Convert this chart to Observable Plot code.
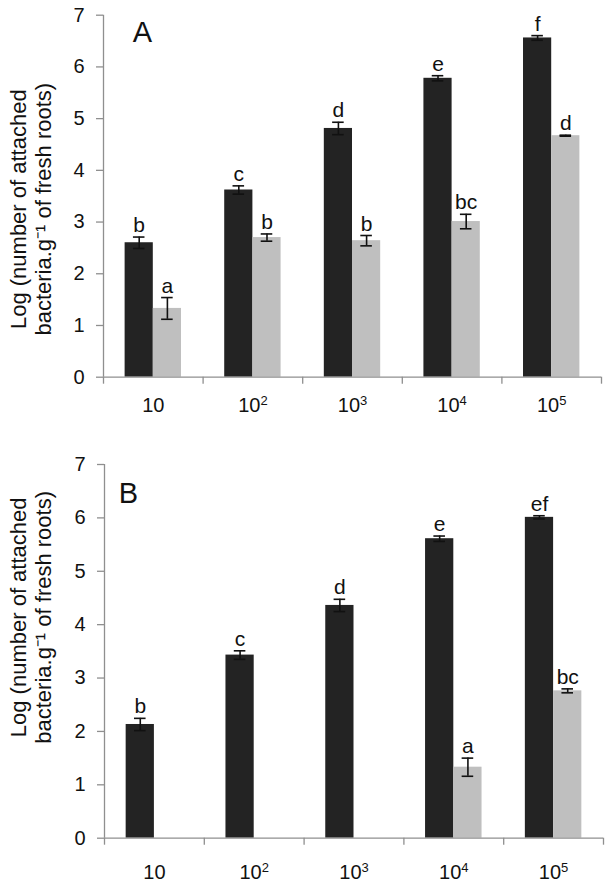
<!DOCTYPE html>
<html>
<head>
<meta charset="utf-8">
<script src="https://cdn.jsdelivr.net/npm/d3@7"></script>
<script src="https://cdn.jsdelivr.net/npm/@observablehq/plot@0.6"></script>
<style>
  html, body { margin: 0; padding: 0; background: #fff; }
  svg { display: block; }
</style>
</head>
<body>
<div id="chart"></div>
<script>
// ---- Data ----
const categories = ["10", "10²", "10³", "10⁴", "10⁵"];
const yTicks = [0, 1, 2, 3, 4, 5, 6, 7];
const yLabel = "Log (number of attached\nbacteria.g⁻¹ of fresh roots)";

// Panel A
const darkA        = [2.60, 3.62, 4.81, 5.78, 6.56];
const darkAErr     = [0.11, 0.08, 0.12, 0.05, 0.045];
const darkALetters = ["b", "c", "d", "e", "f"];
const lightA        = [1.33, 2.70, 2.64, 3.01, 4.67];
const lightAErr     = [0.21, 0.07, 0.10, 0.14, 0.01];
const lightALetters = ["a", "b", "b", "bc", "d"];

// Panel B
const darkB        = [2.13, 3.43, 4.36, 5.61, 6.01];
const darkBErr     = [0.115, 0.08, 0.115, 0.05, 0.03];
const darkBLetters = ["b", "c", "d", "e", "ef"];
const lightB        = [null, null, null, 1.33, 2.76];
const lightBErr     = [null, null, null, 0.17, 0.037];
const lightBLetters = [null, null, null, "a", "bc"];

// ---- Styling ----
const AXIS = "#8f8f8f";
const DARK = "#232323";
const LIGHT = "#bfbfbf";
const INK = "#111";
const FONT = "'Liberation Sans', Arial, Helvetica, sans-serif";
const SUP = {"⁰":"0","¹":"1","²":"2","³":"3","⁴":"4","⁵":"5","⁶":"6","⁷":"7","⁸":"8","⁹":"9"};

function panel(o) {
  const rows = [];
  categories.forEach((c, i) => {
    rows.push({i, s: "dark", v: o.dark[i], e: o.darkErr[i], l: o.darkLetters[i]});
    if (o.light[i] != null) rows.push({i, s: "light", v: o.light[i], e: o.lightErr[i], l: o.lightLetters[i]});
  });
  const W = 0.283;     // bar width, in category units
  const CAP = 0.058;   // half width of error caps
  const x1 = d => d.i + (d.s === "light" ? 0 : -W);
  const x2 = d => d.i + (d.s === "light" ? W : 0);
  const xc = d => d.i + (d.s === "light" ? W / 2 : -W / 2);
  const top = d => d.v + d.e;
  const bot = d => d.v - d.e;
  const idx = d3.range(categories.length);
  const bounds = d3.range(-0.5, categories.length, 1);

  const svg = Plot.plot({
    width: 611,
    height: o.height,
    marginTop: o.marginTop,
    marginBottom: o.marginBottom,
    marginLeft: o.marginLeft,
    marginRight: o.marginRight,
    style: {fontFamily: FONT, background: "#fff", color: INK},
    x: {type: "linear", domain: [-0.5, categories.length - 0.5], axis: null, label: null},
    y: {type: "linear", domain: [0, 7], axis: null, label: null},
    color: {domain: ["dark", "light"], range: [DARK, LIGHT]},
    marks: [
      Plot.rectY(rows, {x1, x2, y1: 0, y2: "v", fill: "s"}),
      // axes lines
      Plot.ruleX([-0.5], {stroke: AXIS, strokeWidth: 1.3}),
      Plot.ruleY([0], {stroke: AXIS, strokeWidth: 1.3}),
      Plot.axisY(yTicks, {tickSize: 7, tickPadding: 12, stroke: AXIS, strokeWidth: 1.3,
        fontSize: 20, fill: INK, tickFormat: d => String(d), label: null}),
      Plot.axisX(bounds, {tickSize: 7, stroke: AXIS, strokeWidth: 1.3, tickFormat: () => "", label: null}),
      Plot.axisX(idx, {tickSize: 0, tickPadding: o.xPad, fontSize: 20, fill: INK,
        tickFormat: i => categories[i], label: null, ariaLabel: "category-labels"}),
      // error bars
      Plot.ruleX(rows, {x: xc, y1: bot, y2: top, stroke: INK, strokeWidth: 1.6}),
      Plot.ruleY(rows, {y: top, x1: d => xc(d) - CAP, x2: d => xc(d) + CAP, stroke: INK, strokeWidth: 1.6}),
      Plot.ruleY(rows, {y: bot, x1: d => xc(d) - CAP, x2: d => xc(d) + CAP, stroke: INK, strokeWidth: 1.6}),
      // significance letters
      Plot.text(rows, {x: xc, y: top, text: "l", dy: -5, lineAnchor: "bottom", fontSize: 21, fill: INK}),
      // panel tag
      Plot.text([o.tag], {text: d => d, frameAnchor: "top-left", dx: o.tagDx, dy: o.tagDy,
        textAnchor: "middle", lineAnchor: "middle", fontSize: 29, fill: INK}),
      // y axis title
      Plot.text([yLabel], {text: d => d, frameAnchor: "left", rotate: -90, dx: o.labDx, dy: o.labDy,
        textAnchor: "middle", lineAnchor: "middle", lineHeight: 1.14, fontSize: 22, fill: INK})
    ]
  });

  // Render superscript exponents of the category labels as real raised tspans
  d3.select(svg).selectAll("text").each(function () {
    const t = this.textContent;
    const m = t.match(/^(\d+)([⁰¹²³⁴⁵⁶⁷⁸⁹]+)$/);
    if (!m || this.querySelector("tspan")) return;
    const sel = d3.select(this);
    sel.text(m[1]);
    sel.append("tspan")
      .attr("dy", "-7.5")
      .attr("font-size", 13)
      .text([...m[2]].map(c => SUP[c]).join(""));
  });
  return svg;
}

const root = document.getElementById("chart");
root.append(panel({
  dark: darkA, darkErr: darkAErr, darkLetters: darkALetters,
  light: lightA, lightErr: lightAErr, lightLetters: lightALetters,
  tag: "A", height: 432, marginTop: 14.7, marginBottom: 55.3, marginLeft: 103, marginRight: 10,
  xPad: 21, tagDx: 39, tagDy: 17.5, labDx: -73, labDy: 13
}));
root.append(panel({
  dark: darkB, darkErr: darkBErr, darkLetters: darkBLetters,
  light: lightB, lightErr: lightBErr, lightLetters: lightBLetters,
  tag: "B", height: 456, marginTop: 32, marginBottom: 50.3, marginLeft: 104, marginRight: 8,
  xPad: 27, tagDx: 24, tagDy: 29, labDx: -74, labDy: -34
}));
</script>
</body>
</html>
